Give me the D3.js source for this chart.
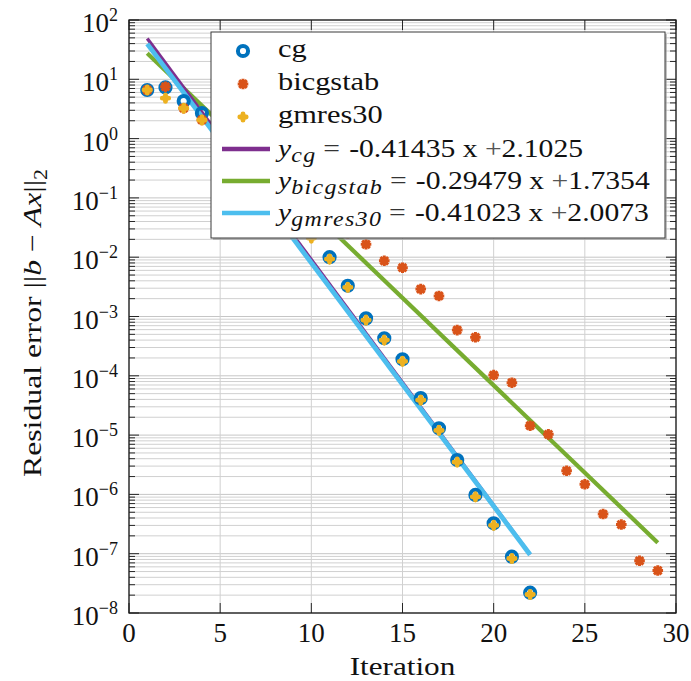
<!DOCTYPE html>
<html>
<head>
<meta charset="utf-8">
<script src="https://cdn.jsdelivr.net/npm/d3@7"></script>
<style>
  body { margin: 0; background: #fff; }
  svg { display: block; }
  text { font-family: "Liberation Serif", "Times New Roman", serif; fill: #111; }
</style>
</head>
<body>
<svg id="chart" width="691" height="681"></svg>
<script>
// Iteration numbers for each solver
const cgIter = [1,2,3,4,5,6,7,8,9,10,11,12,13,14,15,16,17,18,19,20,21,22];
const bicgIter = [1,2,3,4,5,6,7,8,9,10,11,12,13,14,15,16,17,18,19,20,21,22,23,24,25,26,27,28,29];
const gmresIter = [1,2,3,4,5,6,7,8,9,10,11,12,13,14,15,16,17,18,19,20,21,22];

// Residual norms ||b - Ax||_2 per iteration
const cgRes = [6.6, 7.3, 4.3, 2.7, 1.2, 0.55, 0.25, 0.11, 0.05, 0.035, 0.0100, 0.0033,
  9.3e-4, 4.3e-4, 1.9e-4, 4.2e-5, 1.3e-5, 3.8e-6, 9.8e-7, 3.25e-7, 8.9e-8, 2.2e-8];
const bicgRes = [6.6, 7.5, 3.25, 2.06, 1.5, 0.9, 0.45, 0.3, 0.12, 0.07, 0.04, 0.0253,
  0.0165, 0.0087, 0.00665, 0.0029, 0.00222, 5.9e-4, 4.46e-4, 1.03e-4, 7.65e-5, 1.44e-5,
  1.03e-5, 2.5e-6, 1.48e-6, 4.67e-7, 3.1e-7, 7.6e-8, 5.2e-8];
const gmresRes = [6.6, 4.8, 3.25, 2.06, 1.0, 0.45, 0.2, 0.09, 0.045, 0.021, 0.0093, 0.0031,
  8.7e-4, 4.0e-4, 1.75e-4, 3.9e-5, 1.2e-5, 3.5e-6, 9.1e-7, 3.0e-7, 8.3e-8, 2.05e-8];

// Least-squares fits of log10(residual) = slope * x + intercept
const fitKeys = ["cg", "bicgstab", "gmres30"];
const fitSlopes = [-0.41435, -0.29479, -0.41023];
const fitIntercepts = [2.1025, 1.7354, 2.0073];
const fitStart = [1, 1, 1];
const fitEnd = [22, 29, 22];

// Axis ticks
const xTicks = [0, 5, 10, 15, 20, 25, 30];
const yExponents = [2, 1, 0, -1, -2, -3, -4, -5, -6, -7, -8];

const colors = {
  cg: "#0072BD", bicgstab: "#D95319", gmres: "#EDB120",
  fitCg: "#7E2F8E", fitBicg: "#77AC30", fitGmres: "#4DBEEE"
};

const svg = d3.select("#chart");
const M = { left: 129, top: 20, right: 676, bottom: 613 };

const x = d3.scaleLinear().domain([0, 30]).range([M.left, M.right]);
const y = d3.scaleLog().domain([1e-8, 1e2]).range([M.bottom, M.top]);

// horizontal widening for word labels (serif text set wider than Times)
const wide = (ax0, s) => `translate(${ax0},0) scale(${s},1) translate(${-ax0},0)`;

// ---- grid ----
const grid = svg.append("g");
const minorVals = [];
for (let e = -8; e < 2; e++) for (let k = 2; k <= 9; k++) minorVals.push(k * Math.pow(10, e));
grid.selectAll("line.minor").data(minorVals).join("line")
  .attr("x1", M.left).attr("x2", M.right)
  .attr("y1", d => y(d)).attr("y2", d => y(d))
  .attr("stroke", "#d0d0d0").attr("stroke-width", 1);
grid.selectAll("line.majy").data(yExponents).join("line")
  .attr("x1", M.left).attr("x2", M.right)
  .attr("y1", d => y(Math.pow(10, d))).attr("y2", d => y(Math.pow(10, d)))
  .attr("stroke", "#c6c6c6").attr("stroke-width", 1);
grid.selectAll("line.majx").data(xTicks).join("line")
  .attr("x1", d => x(d)).attr("x2", d => x(d))
  .attr("y1", M.top).attr("y2", M.bottom)
  .attr("stroke", "#d0d0d0").attr("stroke-width", 1);

// ---- fitted lines ----
const fitColors = [colors.fitCg, colors.fitBicg, colors.fitGmres];
const fitWidths = [3.4, 4.2, 4.8];
const line = d3.line().x(d => x(d[0])).y(d => y(d[1]));
const fitOrder = [1, 0, 2];
fitOrder.forEach(i => {
  const pts = [fitStart[i], fitEnd[i]].map(t => [t, Math.pow(10, fitSlopes[i] * t + fitIntercepts[i])]);
  svg.append("path").attr("d", line(pts))
    .attr("fill", "none").attr("stroke", fitColors[i]).attr("stroke-width", fitWidths[i]);
});

// ---- marker shapes ----
function drawRing(g) {
  g.append("circle").attr("r", 5.1).attr("fill", "none")
    .attr("stroke", colors.cg).attr("stroke-width", 4);
}
function drawStar(g) {
  const r = 5.3, d = r * 0.72;
  g.append("circle").attr("r", 3.9).attr("fill", colors.bicgstab);
  g.append("path")
    .attr("d", `M${-r},0L${r},0M0,${-r}L0,${r}M${-d},${-d}L${d},${d}M${-d},${d}L${d},${-d}`)
    .attr("stroke", colors.bicgstab).attr("stroke-width", 3).attr("fill", "none");
}
function drawPlus(g) {
  const r = 3.2;
  g.append("circle").attr("r", 3.1).attr("fill", colors.gmres);
  g.append("path").attr("d", `M${-r},0L${r},0M0,${-r}L0,${r}`)
    .attr("stroke", colors.gmres).attr("stroke-width", 4.8)
    .attr("stroke-linecap", "round").attr("fill", "none");
}

function scatter(xs, ys, drawFn) {
  const g = svg.append("g");
  xs.forEach((t, i) => {
    drawFn(g.append("g").attr("transform", `translate(${x(t)},${y(ys[i])})`));
  });
}
scatter(cgIter, cgRes, drawRing);
scatter(bicgIter, bicgRes, drawStar);
scatter(gmresIter, gmresRes, drawPlus);

// ---- axes box and ticks ----
const ax = svg.append("g").attr("stroke", "#262626").attr("stroke-width", 1);
yExponents.forEach(e => {
  const py = y(Math.pow(10, e));
  ax.append("line").attr("x1", M.left).attr("x2", M.left + 10).attr("y1", py).attr("y2", py);
  ax.append("line").attr("x1", M.right).attr("x2", M.right - 10).attr("y1", py).attr("y2", py);
});
minorVals.forEach(v => {
  const py = y(v);
  ax.append("line").attr("x1", M.left).attr("x2", M.left + 6).attr("y1", py).attr("y2", py);
  ax.append("line").attr("x1", M.right).attr("x2", M.right - 6).attr("y1", py).attr("y2", py);
});
xTicks.forEach(t => {
  const px = x(t);
  ax.append("line").attr("x1", px).attr("x2", px).attr("y1", M.bottom).attr("y2", M.bottom - 10);
  ax.append("line").attr("x1", px).attr("x2", px).attr("y1", M.top).attr("y2", M.top + 10);
});
svg.append("rect").attr("x", M.left).attr("y", M.top)
  .attr("width", M.right - M.left).attr("height", M.bottom - M.top)
  .attr("fill", "none").attr("stroke", "#1a1a1a").attr("stroke-width", 1.3);

// tick labels
svg.append("g").selectAll("text").data(xTicks).join("text")
  .attr("x", d => x(d)).attr("y", 642).attr("text-anchor", "middle")
  .attr("font-size", 27).text(d => d);

const yl = svg.append("g").selectAll("text").data(yExponents).join("text")
  .attr("x", 118).attr("y", d => y(Math.pow(10, d)) + 12)
  .attr("text-anchor", "end").attr("font-size", 27);
yl.append("tspan").text("10");
yl.append("tspan").attr("font-size", 18).attr("dy", -11)
  .text(d => (d < 0 ? "\u2212" + (-d) : String(d)));

// axis titles
const xc = (M.left + M.right) / 2;
svg.append("text").attr("x", xc).attr("y", 675)
  .attr("transform", wide(xc, 1.2))
  .attr("text-anchor", "middle").attr("font-size", 26).text("Iteration");

const ylab = svg.append("text")
  .attr("transform", `translate(41,323) rotate(-90) scale(1.22,1)`)
  .attr("text-anchor", "middle").attr("font-size", 26);
ylab.append("tspan").text("Residual error ||");
ylab.append("tspan").attr("font-style", "italic").text("b");
ylab.append("tspan").text(" \u2212 ");
ylab.append("tspan").attr("font-style", "italic").text("Ax");
ylab.append("tspan").text("||");
ylab.append("tspan").attr("font-size", 18).attr("dy", 6).text("2");

// ---- legend ----
const L = { x: 211, y: 32, w: 454, h: 206 };
const leg = svg.append("g");
leg.append("rect").attr("x", L.x + 2).attr("y", L.y + 2).attr("width", L.w).attr("height", L.h)
  .attr("fill", "#9a9a9a").attr("opacity", 0.6);
leg.append("rect").attr("x", L.x).attr("y", L.y).attr("width", L.w).attr("height", L.h)
  .attr("fill", "#fff").attr("stroke", "#3a3a3a").attr("stroke-width", 1);

const markerRows = [
  { label: "cg", draw: drawRing, base: 57 },
  { label: "bicgstab", draw: drawStar, base: 90 },
  { label: "gmres30", draw: drawPlus, base: 123 }
];
markerRows.forEach(r => {
  r.draw(leg.append("g").attr("transform", `translate(243,${r.base - 6})`));
  leg.append("text").attr("x", 278).attr("y", r.base).attr("font-size", 26)
    .attr("transform", wide(278, 1.17)).text(r.label);
});

const fitBases = [157, 189, 221];
const fitSubs = ["cg", "bicgstab", "gmres30"];
fitKeys.forEach((k, i) => {
  const b = fitBases[i];
  leg.append("line").attr("x1", 222).attr("x2", 270).attr("y1", b - 8).attr("y2", b - 8)
    .attr("stroke", fitColors[i]).attr("stroke-width", 4.5);
  const t = leg.append("text").attr("x", 278).attr("y", b).attr("font-size", 26)
    .attr("transform", wide(278, 1.14));
  t.append("tspan").attr("font-style", "italic").text("y");
  t.append("tspan").attr("font-style", "italic").attr("font-size", 21)
    .attr("letter-spacing", 1.2).attr("dy", 5).text(fitSubs[i]);
  t.append("tspan").attr("dy", -5).attr("dx", 6).attr("fill", "#333").text("=");
  t.append("tspan").attr("dx", 8)
    .text(`${fitSlopes[i]} x `);
  t.append("tspan").attr("fill", "#555").text("+");
  t.append("tspan").text(fitIntercepts[i].toFixed(4));
});
</script>
</body>
</html>
